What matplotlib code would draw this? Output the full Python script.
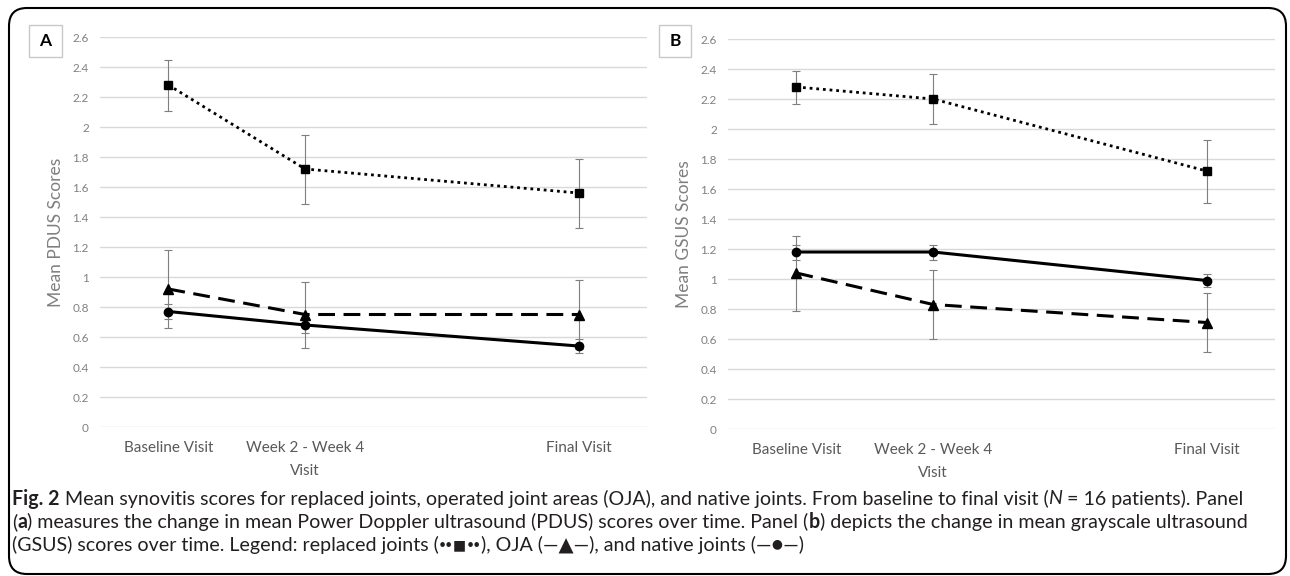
import numpy as np
import matplotlib
matplotlib.use("Agg")
import matplotlib.pyplot as plt
from matplotlib.patches import FancyBboxPatch, Rectangle
from matplotlib.transforms import IdentityTransform

# categories (visit 2 sits at 1, the final visit at 3, as in the source chart)
visits = ['Baseline Visit', 'Week 2 - Week 4\nVisit', 'Final Visit']
visit_pos = [0, 1, 3]

# panel A: PDUS
pdus_replaced = [2.28, 1.72, 1.56]
pdus_replaced_err = [0.17, 0.23, 0.23]
pdus_oja = [0.92, 0.75, 0.75]
pdus_oja_err = [0.26, 0.22, 0.23]
pdus_native = [0.77, 0.68, 0.54]
pdus_native_err = [0.05, 0.05, 0.045]

# panel B: GSUS
gsus_replaced = [2.28, 2.20, 1.72]
gsus_replaced_err = [0.11, 0.17, 0.21]
gsus_oja = [1.04, 0.83, 0.71]
gsus_oja_err = [0.25, 0.23, 0.195]
gsus_native = [1.18, 1.18, 0.99]
gsus_native_err = [0.05, 0.05, 0.045]

yticks = np.round(np.arange(0, 2.61, 0.2), 1)

W, H = 1290, 576
fig = plt.figure(figsize=(W / 100, H / 100), dpi=100)
plt.rcParams['font.family'] = ['Lato', 'DejaVu Sans']


def px_axes(x0, x1, ytop, ybot):
    return fig.add_axes([x0 / W, 1 - ybot / H, (x1 - x0) / W, (ybot - ytop) / H])


def panel(ax, rep, rep_e, oja, oja_e, nat, nat_e, ylabel):
    ax.set_axisbelow(True)
    ax.grid(axis='y', color='#d9d9d9', lw=1)
    for y, e in ((rep, rep_e), (oja, oja_e), (nat, nat_e)):
        ax.errorbar(visit_pos, y, yerr=e, fmt='none', ecolor='#7f7f7f',
                    elinewidth=0.8, capsize=3, capthick=0.8, zorder=2)
    ax.plot(visit_pos, rep, ls=(0, (1, 1.4)), lw=2, color='black',
            marker='s', ms=5.5, zorder=3)
    ax.plot(visit_pos, oja, ls=(0, (5.5, 2.8)), lw=2.2, color='black',
            marker='^', ms=6.5, zorder=3)
    ax.plot(visit_pos, nat, ls='-', lw=2.2, color='black',
            marker='o', ms=6, zorder=3)
    ax.set_xlim(-0.5, 3.5)
    ax.set_ylim(0, 2.6)
    ax.set_yticks(yticks)
    ax.set_yticklabels([f'{v:g}' for v in yticks], fontsize=8.5, color='#808080')
    ax.set_xticks(visit_pos)
    ax.set_xticklabels(visits, fontsize=11, color='#595959', linespacing=1.8)
    ax.tick_params(length=0)
    ax.tick_params(axis='y', pad=8)
    ax.tick_params(axis='x', pad=10)
    for s in ax.spines.values():
        s.set_visible(False)
    ax.set_ylabel(ylabel, fontsize=12.5, color='#7f7f7f', va='center')
    ax.yaxis.set_label_coords(-0.08, 0.5)


axA = px_axes(100, 647, 37, 427)
panel(axA, pdus_replaced, pdus_replaced_err, pdus_oja, pdus_oja_err,
      pdus_native, pdus_native_err, 'Mean PDUS Scores')
axB = px_axes(728, 1275, 39, 429)
panel(axB, gsus_replaced, gsus_replaced_err, gsus_oja, gsus_oja_err,
      gsus_native, gsus_native_err, 'Mean GSUS Scores')

# panel letter boxes
for letter, x0, x1 in (('A', 29, 62), ('B', 659, 691)):
    fig.patches.append(Rectangle((x0, H - 57), x1 - x0, 32, transform=IdentityTransform(),
                                 fill=False, ec='#c8c8c8', lw=1))
    fig.text((x0 + x1) / 2 / W, 1 - 41 / H, letter, ha='center', va='center',
             fontsize=12.5, fontweight='bold', color='black')

# outer rounded frame
fig.patches.append(FancyBboxPatch((9, 2), 1277, 566, boxstyle='round,pad=0,rounding_size=18',
                                  transform=IdentityTransform(), fill=False, ec='black', lw=1.5))

# caption, drawn piece by piece so bold/italic parts sit inline
renderer = fig.canvas.get_renderer()
cap_color = '#231f20'
cap_size = 14.1


def caption_line(y, parts):
    x = 12 / W
    for part in parts:
        txt, weight, style = part[:3]
        size = part[3] if len(part) > 3 else cap_size
        t = fig.text(x, 1 - y / H, txt, ha='left', va='center', fontsize=size,
                     fontweight=weight, fontstyle=style, color=cap_color,
                     family=['Lato', 'DejaVu Sans'])
        bb = t.get_window_extent(renderer)
        x += bb.width / W


caption_line(499, [('Fig. 2', 'bold', 'normal'),
                   (' Mean synovitis scores for replaced joints, operated joint areas (OJA), '
                    'and native joints. From baseline to final visit (', 'normal', 'normal'),
                   ('N', 'normal', 'italic'),
                   (' = 16 patients). Panel', 'normal', 'normal')])
caption_line(522, [('(', 'normal', 'normal'), ('a', 'bold', 'normal'),
                   (') measures the change in mean Power Doppler ultrasound (PDUS) scores over '
                    'time. Panel (', 'normal', 'normal'),
                   ('b', 'bold', 'normal'),
                   (') depicts the change in mean grayscale ultrasound', 'normal', 'normal')])
caption_line(545, [('(GSUS) scores over time. Legend: replaced joints (', 'normal', 'normal'),
                   ('\u2022\u2022', 'normal', 'normal', 9),
                   ('\u25a0', 'normal', 'normal', 10),
                   ('\u2022\u2022', 'normal', 'normal', 9),
                   ('), OJA (\u2014\u25b2\u2014), and native joints (\u2014\u25cf\u2014)', 'normal', 'normal')])

fig.savefig('out.png', dpi=100)
